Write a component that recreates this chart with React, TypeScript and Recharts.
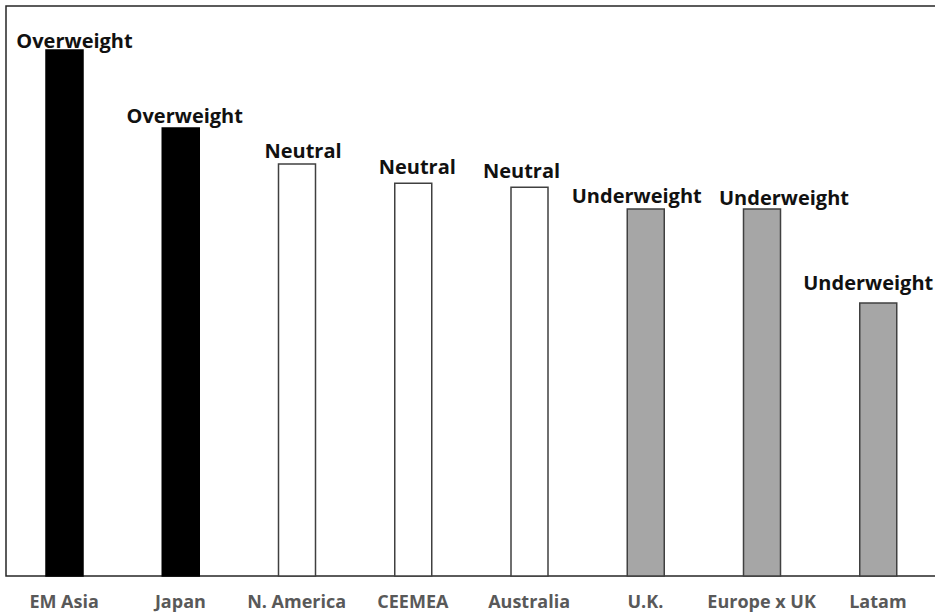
import { BarChart, Bar, XAxis, YAxis, Cell, LabelList, usePlotArea } from 'recharts';

const CATEGORIES = ['EM Asia', 'Japan', 'N. America', 'CEEMEA', 'Australia', 'U.K.', 'Europe x UK', 'Latam'];
const SCORES = [92.3, 78.6, 72.3, 68.9, 68.2, 64.4, 64.4, 47.9];
const STANCES = ['Overweight', 'Overweight', 'Neutral', 'Neutral', 'Neutral', 'Underweight', 'Underweight', 'Underweight'];

// hand-placed label nudges (dx, gap above bar)
const LABEL_DX = [10, 4, 6, 4, -8, -9, 22, -10];
const LABEL_GAP = [2, 5, 6, 9, 9, 6, 4, 13];

const STANCE_STYLE: Record<string, { fill: string; stroke: string }> = {
    Overweight: { fill: '#000000', stroke: '#000000' },
    Neutral: { fill: '#ffffff', stroke: '#404040' },
    Underweight: { fill: '#a6a6a6', stroke: '#404040' },
};

const data = CATEGORIES.map((name, i) => ({ name, score: SCORES[i], stance: STANCES[i] }));

const PlotFrame = () => {
    const area = usePlotArea();
    if (!area) return null;
    return (
        <rect x={area.x} y={area.y} width={area.width} height={area.height} fill="none" stroke="#262626" strokeWidth={1.5} />
    );
};

const StanceLabel = (props: any) => {
    const { x, y, width, value, index } = props;
    return (
        <text
            x={x + width / 2 + LABEL_DX[index]}
            y={y - LABEL_GAP[index]}
            textAnchor="middle"
            fontFamily="'Open Sans', sans-serif"
            fontWeight={700}
            fontSize={20}
            fill="#111"
        >
            {value}
        </text>
    );
};

const CategoryTick = (props: any) => {
    const { x, payload } = props;
    return (
        <text x={x} y={608} textAnchor="middle" fontFamily="'Open Sans', sans-serif" fontWeight={700} fontSize={18} fill="#595959">
            {payload.value}
        </text>
    );
};

export default function App() {
    return (
        <div style={{ position: 'fixed', left: 0, top: 0, width: 935, height: 615, overflow: 'hidden', background: '#fff' }}>
            <BarChart width={944} height={615} data={data} margin={{ top: 6, right: 8, left: 6, bottom: 0 }}>
                <XAxis dataKey="name" height={39} axisLine={false} tickLine={false} tick={<CategoryTick />} interval={0} />
                <YAxis hide domain={[0, 100]} />
                <Bar dataKey="score" barSize={37} isAnimationActive={false}>
                    {data.map((d, i) => (
                        <Cell key={`cell-${i}`} fill={STANCE_STYLE[d.stance].fill} stroke={STANCE_STYLE[d.stance].stroke} strokeWidth={1.5} />
                    ))}
                    <LabelList dataKey="stance" content={<StanceLabel />} />
                </Bar>
                <PlotFrame />
            </BarChart>
        </div>
    );
}
